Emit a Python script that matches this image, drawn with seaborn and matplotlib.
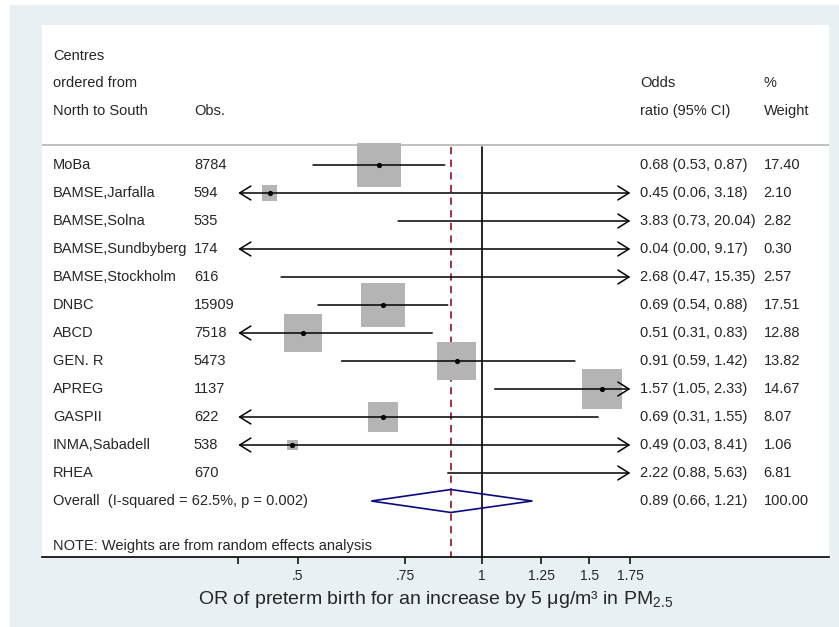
import numpy as np
import pandas as pd
import seaborn as sns
import matplotlib.pyplot as plt
from matplotlib.patches import Rectangle, Polygon
from matplotlib.ticker import NullLocator

# study level results
centres = ['MoBa', 'BAMSE,Jarfalla', 'BAMSE,Solna', 'BAMSE,Sundbyberg', 'BAMSE,Stockholm',
           'DNBC', 'ABCD', 'GEN. R', 'APREG', 'GASPII', 'INMA,Sabadell', 'RHEA']
obs = [8784, 594, 535, 174, 616, 15909, 7518, 5473, 1137, 622, 538, 670]
odds_ratio = [0.68, 0.45, 3.83, 0.04, 2.68, 0.69, 0.51, 0.91, 1.57, 0.69, 0.49, 2.22]
ci_low = [0.53, 0.06, 0.73, 0.00, 0.47, 0.54, 0.31, 0.59, 1.05, 0.31, 0.03, 0.88]
ci_high = [0.87, 3.18, 20.04, 9.17, 15.35, 0.88, 0.83, 1.42, 2.33, 1.55, 8.41, 5.63]
weights = [17.40, 2.10, 2.82, 0.30, 2.57, 17.51, 12.88, 13.82, 14.67, 8.07, 1.06, 6.81]

overall_label = 'Overall  (I-squared = 62.5%, p = 0.002)'
overall_or = 0.89
overall_low = 0.66
overall_high = 1.21
overall_weight = 100.00

tick_values = [0.4, 0.5, 0.75, 1, 1.25, 1.5, 1.75]
tick_labels = ['', '.5', '.75', '1', '1.25', '1.5', '1.75']

df = pd.DataFrame({'centre': centres, 'obs': obs, 'est': odds_ratio,
                   'lo': ci_low, 'hi': ci_high, 'weight': weights})
df['row'] = np.arange(len(df))
x_min, x_max = tick_values[0], tick_values[-1]

sns.set_theme(style='white')
plt.rcParams['font.family'] = ['Liberation Sans', 'DejaVu Sans']
plt.rcParams['mathtext.fontset'] = 'custom'
plt.rcParams['mathtext.rm'] = 'Liberation Sans'
plt.rcParams['mathtext.it'] = 'Liberation Sans:italic'
plt.rcParams['mathtext.default'] = 'regular'

bg = '#E9F0F3'
fig = plt.figure(figsize=(8.39, 6.27), dpi=100)
fig.patch.set_facecolor('white')
fig.patches.append(Rectangle((10 / 839, 0), 1, 1 - 5 / 627, transform=fig.transFigure,
                             color=bg, zorder=-10))
ax = fig.add_axes([42 / 839, 1 - 557 / 627, 787 / 839, 532 / 627])
ax.set_facecolor('white')
ax.set_xscale('log')
ax.set_xlim(np.exp(-1.655), np.exp(1.307))
ax.set_ylim(14.0, -5.0)

# header + separator
fs = 10.5
tr = ax.get_yaxis_transform()
col_name, col_obs, col_or, col_w = 0.014, 0.193, 0.760, 0.917
for y, t in [(-3.9, 'Centres'), (-2.93, 'ordered from'), (-1.93, 'North to South')]:
    ax.text(col_name, y, t, transform=tr, va='center', fontsize=fs)
ax.text(col_obs, -1.93, 'Obs.', transform=tr, va='center', fontsize=fs)
ax.text(col_or, -2.93, 'Odds', transform=tr, va='center', fontsize=fs)
ax.text(col_or, -1.93, 'ratio (95% CI)', transform=tr, va='center', fontsize=fs)
ax.text(col_w, -2.93, '%', transform=tr, va='center', fontsize=fs)
ax.text(col_w, -1.93, 'Weight', transform=tr, va='center', fontsize=fs)
ax.axhline(-0.71, color='#C0C0C0', lw=1.4)

# reference lines
ax.plot([1, 1], [-0.64, 14], color='black', lw=1.2, zorder=1)
ax.plot([overall_or, overall_or], [-0.64, 14], color='#9B2335', lw=1.3,
        ls=(0, (4, 3)), zorder=1)

# confidence intervals, truncated with arrows outside the axis range
for _, r in df.iterrows():
    left = r['lo'] < x_min
    right = r['hi'] > x_max
    style = {(True, True): '<->', (True, False): '<-', (False, True): '->',
             (False, False): '-'}[(left, right)]
    if style != '-':
        style += ',head_length=0.8,head_width=0.5'
    ax.annotate('', xy=(min(r['hi'], x_max), r['row']), xytext=(max(r['lo'], x_min), r['row']),
                arrowprops=dict(arrowstyle=style, color='black', lw=1.1,
                                shrinkA=0, shrinkB=0, mutation_scale=10),
                zorder=3)

# weighted boxes + point estimates (only those inside the range)
shown = df[(df['est'] >= x_min) & (df['est'] <= x_max)]
wmax = df['weight'].max()
sns.scatterplot(data=shown, x='est', y='row', size='weight', sizes=(0, 57 * wmax),
                size_norm=(0, wmax), marker='s', color='#B4B4B4', linewidth=0,
                legend=False, ax=ax, zorder=2)
sns.scatterplot(data=shown, x='est', y='row', s=14, color='black', linewidth=0,
                legend=False, ax=ax, zorder=4)

# text columns
for _, r in df.iterrows():
    ax.text(col_name, r['row'], r['centre'], transform=tr, va='center', fontsize=fs)
    ax.text(col_obs, r['row'], str(r['obs']), transform=tr, va='center', fontsize=fs)
    ax.text(col_or, r['row'], f"{r['est']:.2f} ({r['lo']:.2f}, {r['hi']:.2f})",
            transform=tr, va='center', fontsize=fs)
    ax.text(col_w, r['row'], f"{r['weight']:.2f}", transform=tr, va='center', fontsize=fs)

# overall diamond
yo = len(df)
ax.add_patch(Polygon([(overall_low, yo), (overall_or, yo - 0.41), (overall_high, yo),
                      (overall_or, yo + 0.41)], closed=True, fill=False,
                     edgecolor='#0A0A80', lw=1.2, zorder=3))
ax.text(col_name, yo, overall_label, transform=tr, va='center', fontsize=fs)
ax.text(col_or, yo, f"{overall_or:.2f} ({overall_low:.2f}, {overall_high:.2f})",
        transform=tr, va='center', fontsize=fs)
ax.text(col_w, yo, f"{overall_weight:.2f}", transform=tr, va='center', fontsize=fs)
ax.text(col_name, 13.6, 'NOTE: Weights are from random effects analysis', transform=tr,
        va='center', fontsize=fs)

# axis styling
ax.set_xticks(tick_values)
ax.set_xticklabels(tick_labels)
ax.xaxis.set_minor_locator(NullLocator())
ax.set_yticks([])
ax.set_ylabel('')
ax.tick_params(axis='x', bottom=True, length=5, width=1.1, direction='out',
               color='black', labelsize=10, pad=4)
for s in ['top', 'left', 'right']:
    ax.spines[s].set_visible(False)
ax.spines['bottom'].set_color('black')
ax.spines['bottom'].set_linewidth(1.2)
ax.set_xlabel('OR of preterm birth for an increase by 5 $\\mu$g/m³ in PM$_{2.5}$',
              fontsize=14, labelpad=4)

fig.savefig('out.png', dpi=100)
